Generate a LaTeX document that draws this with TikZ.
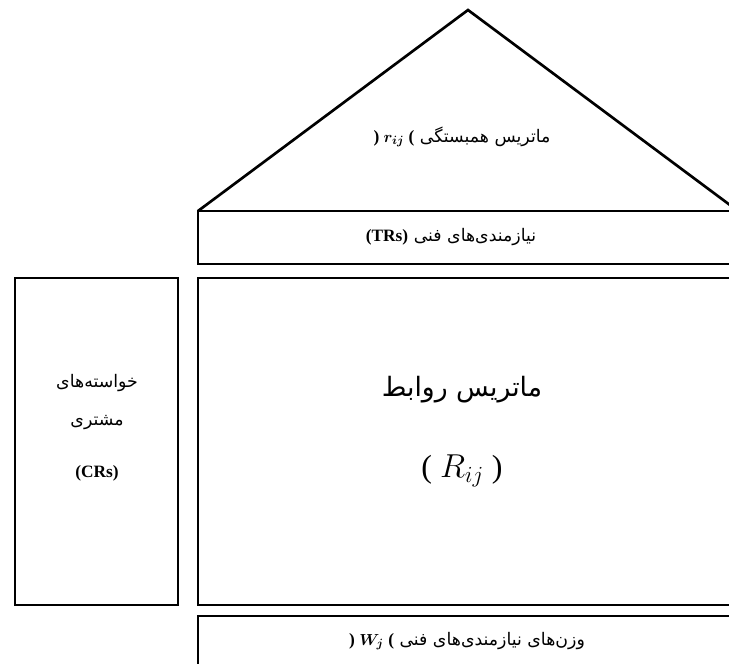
\documentclass[tikz,border=0pt]{standalone}
\usepackage{amsmath}
\usepackage{fontspec}
\setmainfont{Liberation Serif}
\newfontfamily\fa[Script=Arabic]{DejaVu Sans}
\TeXXeTstate=1
\tikzset{>=latex}
\usetikzlibrary{calc}
\newcommand{\lat}[1]{\hbox{\rmfamily\bfseries #1}}
\tikzset{
  panel/.style={draw, line width=2pt},
  small/.style={font=\fa\fontsize{13}{15}\selectfont, align=center},
  big/.style={font=\fa\fontsize{20}{24}\selectfont, align=center}
}

\begin{document}
\begin{tikzpicture}[x=0.75pt, y=-0.75pt]
            \clip (0,0) rectangle (729,664);
            % roof and boxes
            \draw[panel, line join=miter] (198,211) -- (468,10) -- (738,211);
            \draw[panel] (198,211) rectangle (745,264);
            \draw[panel] (15,278) rectangle (178,605);
            \draw[panel] (198,278) rectangle (745,605);
            \draw[panel] (198,616) rectangle (745,680);
            % labels
            \node[small] (roof) at (462,137) {\beginR ماتریس همبستگی \lat{( $\boldsymbol{r_{ij}}$ )}\endR};
            \node[small] (trs) at (451,237) {\beginR نیازمندی‌های فنی \lat{(TRs)}\endR};
            \node[small] (crs1) at (97,383) {\beginR خواسته‌های\endR};
            \node[small] (crs2) at (97,423) {\beginR مشتری\endR};
            \node[small] (crs3) at (97,473) {\lat{(CRs)}};
            \node[big] (rel) at (462,390) {\beginR ماتریس روابط\endR};
            \node[font=\fontsize{24}{28}\selectfont] (rij) at (462,471) {( $R_{ij}$ )};
            \node[small] (wj) at (467,641) {\beginR وزن‌های نیازمندی‌های فنی \lat{( $\boldsymbol{W_{j}}$ )}\endR};
        \end{tikzpicture}
\end{document}
